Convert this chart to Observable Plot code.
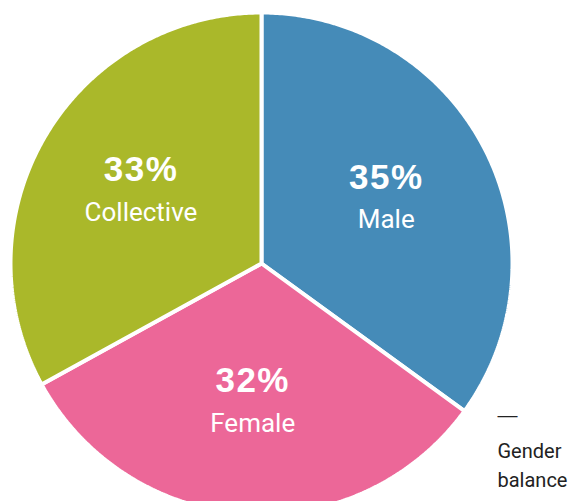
<!DOCTYPE html>
<html>
<head>
<meta charset="utf-8">
<script src="https://cdn.jsdelivr.net/npm/d3@7"></script>
<script src="https://cdn.jsdelivr.net/npm/@observablehq/plot@0.6"></script>
<style>
  html, body { margin: 0; padding: 0; background: #fff; }
  #chart { width: 570px; height: 501px; }
</style>
</head>
<body>
<div id="chart"></div>
<script>
const categories = ["Male", "Female", "Collective"];
const values = [35, 32, 33];
const colors = ["#458bb8", "#ec6798", "#aab82a"];
const noteDash = ["—"];
const noteLines = ["Gender", "balance"];

const R = 251;
const LABEL_R = 140;

const arcs = d3.pie().sort(null).value(d => d.value)(
  categories.map((c, i) => ({ category: c, value: values[i] }))
);

const polygonPoints = [];
arcs.forEach(a => {
  const n = 240;
  polygonPoints.push({ category: a.data.category, x: 0, y: 0 });
  for (let k = 0; k <= n; k++) {
    const t = a.startAngle + (a.endAngle - a.startAngle) * k / n;
    polygonPoints.push({ category: a.data.category, x: R * Math.sin(t), y: -R * Math.cos(t) });
  }
  polygonPoints.push({ category: a.data.category, x: 0, y: 0 });
});

const labels = arcs.map(a => {
  const m = (a.startAngle + a.endAngle) / 2;
  return {
    category: a.data.category,
    pct: a.data.value + "%",
    x: LABEL_R * Math.sin(m),
    y: -LABEL_R * Math.cos(m)
  };
});

const chart = Plot.plot({
  width: 570,
  height: 501,
  margin: 0,
  x: { domain: [-261, 309], range: [0, 570], axis: null },
  y: { domain: [-263, 238], range: [0, 501], axis: null },
  color: { domain: categories, range: colors },
  marks: [
    Plot.line(polygonPoints, {
      x: "x", y: "y", z: "category", fill: "category",
      stroke: "white", strokeWidth: 4, strokeLinejoin: "miter", curve: "linear"
    }),
    Plot.text(labels, {
      x: "x", y: "y", text: "pct", dy: -22, fill: "white",
      fontSize: 35, fontWeight: "bold", fontFamily: "Liberation Sans, Arial, sans-serif"
    }),
    Plot.text(labels, {
      x: "x", y: "y", text: "category", dy: 20, fill: "white",
      fontSize: 26, fontFamily: "Roboto, sans-serif"
    }),
    Plot.text(noteDash, {
      frameAnchor: "bottom-right", textAnchor: "start", lineAnchor: "middle",
      dx: -73, dy: -86, fill: "#222",
      fontSize: 20, fontFamily: "Liberation Sans, Arial, sans-serif"
    }),
    Plot.text([noteLines.join("\n")], {
      frameAnchor: "bottom-right", textAnchor: "start", lineAnchor: "bottom",
      dx: -73, dy: -15, lineHeight: 1.42, fill: "#222",
      fontSize: 20, fontFamily: "Roboto, sans-serif"
    })
  ]
});

d3.select(chart).selectAll("g[font-weight=bold] text").attr("letter-spacing", "1.5px");

document.getElementById("chart").appendChild(chart);
</script>
</body>
</html>
